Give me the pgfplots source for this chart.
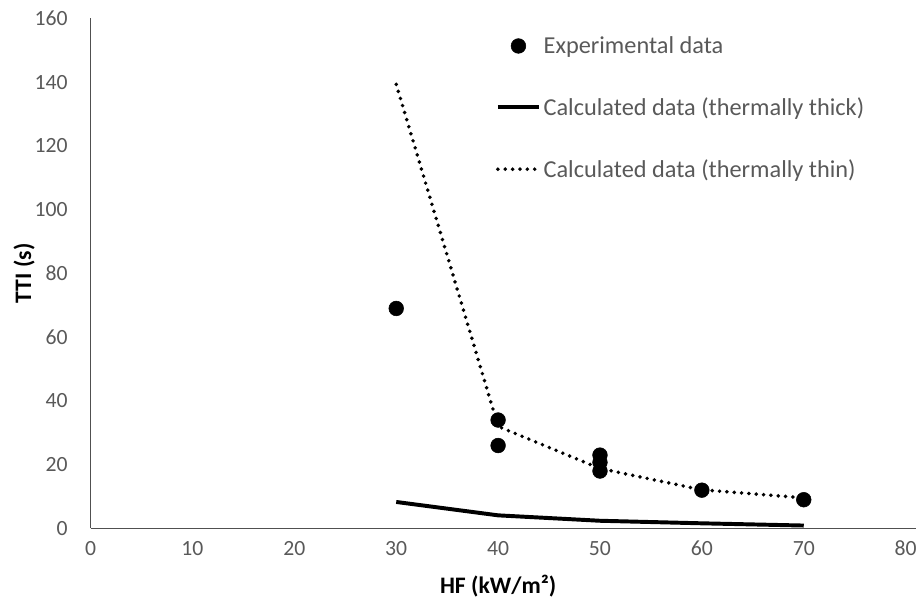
\documentclass[border={7pt 0pt 0pt 5pt}]{standalone}
\usepackage{fontspec}
\setmainfont{Carlito}
\usepackage{pgfplots}
\pgfplotsset{compat=1.18}
\definecolor{ticktext}{RGB}{89,89,89}
\definecolor{axline}{RGB}{80,80,80}
\begin{document}
\begin{tikzpicture}
\begin{axis}[
  scale only axis,
  width=620pt, height=388pt,
  xmin=0, xmax=80, ymin=0, ymax=160,
  xtick={0,10,...,80}, ytick={0,20,...,160},
  axis lines=left,
  axis line style={draw=axline, line width=0.8pt, -},
  x axis line style={shorten >=-8pt},
  major tick length=0pt,
  tick label style={font=\fontsize{16.5}{18}\selectfont, text=ticktext},
  /pgf/number format/assume math mode=true,
  xticklabel style={yshift=-6pt},
  yticklabel style={xshift=-14pt},
  xlabel={\textbf{HF (kW/m²)}},
  ylabel={\textbf{TTI (s)}},
  label style={font=\fontsize{18}{20}\selectfont},
  xlabel style={yshift=-8pt},
  ylabel style={yshift=-7pt},
  legend cell align=left,
  legend style={draw=none, fill=none, at={(0.497,0.97)}, anchor=north west,
    font=\fontsize{18.5}{20}\selectfont, text=ticktext, row sep=28pt,
    inner sep=0pt},
  legend image code/.code={\draw[mark repeat=2, mark phase=2, #1]
    plot coordinates {(0cm,0cm) (0.55cm,0cm) (1.1cm,0cm)};},
]
% measured ignition times
\addplot[only marks, mark=*, mark size=5.6pt, black] coordinates {
  (30,69) (40,34) (40,26) (50,23) (50,20.7) (50,18) (60,12) (70,9)
};
\addlegendentry{Experimental data}
% thermally thick model
\addplot[black, line width=3pt, no marks] coordinates {
  (30,8.3) (40,4.1) (50,2.4) (60,1.6) (70,0.9)
};
\addlegendentry{Calculated data (thermally thick)}
% thermally thin model
\addplot[black, line width=3pt, line cap=round, dash pattern=on 0pt off 5.6pt, no marks] coordinates {
  (30,139.3) (40,32) (50,18.8) (60,12.1) (70,9.6)
};
\addlegendentry{Calculated data (thermally thin)}
\end{axis}
\end{tikzpicture}
\end{document}
